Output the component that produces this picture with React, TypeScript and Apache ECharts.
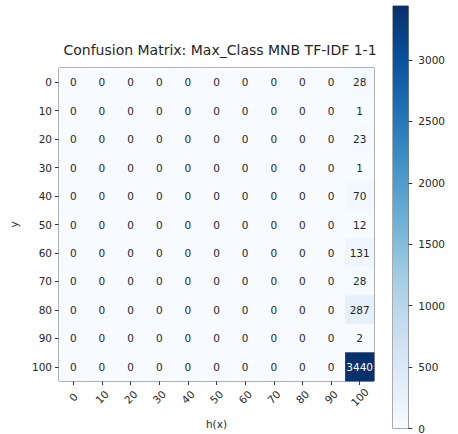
import React, { useEffect, useRef } from "react";
import * as echarts from "echarts";

const predLabels = ["0", "10", "20", "30", "40", "50", "60", "70", "80", "90", "100"];
const trueLabels = ["0", "10", "20", "30", "40", "50", "60", "70", "80", "90", "100"];
const matrix: number[][] = [
  [0, 0, 0, 0, 0, 0, 0, 0, 0, 0, 28],
  [0, 0, 0, 0, 0, 0, 0, 0, 0, 0, 1],
  [0, 0, 0, 0, 0, 0, 0, 0, 0, 0, 23],
  [0, 0, 0, 0, 0, 0, 0, 0, 0, 0, 1],
  [0, 0, 0, 0, 0, 0, 0, 0, 0, 0, 70],
  [0, 0, 0, 0, 0, 0, 0, 0, 0, 0, 12],
  [0, 0, 0, 0, 0, 0, 0, 0, 0, 0, 131],
  [0, 0, 0, 0, 0, 0, 0, 0, 0, 0, 28],
  [0, 0, 0, 0, 0, 0, 0, 0, 0, 0, 287],
  [0, 0, 0, 0, 0, 0, 0, 0, 0, 0, 2],
  [0, 0, 0, 0, 0, 0, 0, 0, 0, 0, 3440],
];
const colorbarMax = 3440;
const colorbarTicks = [0, 500, 1000, 1500, 2000, 2500, 3000];

const blues = ["#f7fbff", "#deebf7", "#c6dbef", "#9ecae1", "#6baed6", "#4292c6", "#2171b5", "#08519c", "#08306b"];
const FONT = "DejaVu Sans";
const TXT = "#262626";

export default function App() {
  const ref = useRef<HTMLDivElement>(null);
  useEffect(() => {
    if (!ref.current) return;
    const chart = echarts.init(ref.current, null, { renderer: "svg" });
    const maxVal = Math.max(...matrix.map((r) => Math.max(...r)));
    const data: any[] = [];
    matrix.forEach((row, i) =>
      row.forEach((v, j) => {
        data.push({
          value: [j, i, v],
          label: { color: v > maxVal / 2 ? "#ffffff" : TXT },
        });
      })
    );
    chart.setOption({
      animation: false,
      backgroundColor: "#ffffff",
      textStyle: { fontFamily: FONT },
      title: {
        text: "Confusion Matrix: Max_Class MNB TF-IDF 1-1",
        left: 215,
        textAlign: "center",
        top: 38,
        textStyle: { fontFamily: FONT, fontSize: 14, fontWeight: "normal", color: TXT },
      },
      grid: [
        { left: 56, top: 68, width: 318, height: 314, show: true, borderColor: "#333", borderWidth: 1, backgroundColor: "transparent" },
        { left: 393, top: 6, width: 21, height: 430, show: true, borderColor: "#555", borderWidth: 1 },
      ],
      xAxis: [
        {
          type: "category",
          gridIndex: 0,
          data: predLabels,
          name: "h(x)",
          nameLocation: "middle",
          nameGap: 37,
          nameTextStyle: { fontFamily: FONT, fontSize: 10.5, color: TXT },
          axisLine: { show: false },
          axisTick: { show: true, alignWithLabel: true, length: 4, lineStyle: { color: "#333" } },
          axisLabel: {
            rotate: 45,
            align: "center",
            verticalAlign: "middle",
            fontFamily: FONT,
            fontSize: 10.5,
            color: TXT,
            margin: 16,
            interval: 0,
          },
          splitLine: { show: false },
        },
        {
          type: "category",
          gridIndex: 1,
          data: ["cb"],
          show: false,
        },
      ],
      yAxis: [
        {
          type: "category",
          gridIndex: 0,
          data: trueLabels,
          inverse: true,
          name: "y",
          nameLocation: "middle",
          nameGap: 40,
          nameTextStyle: { fontFamily: FONT, fontSize: 10.5, color: TXT },
          axisLine: { show: false },
          axisTick: { show: true, alignWithLabel: true, length: 4, lineStyle: { color: "#333" } },
          axisLabel: { fontFamily: FONT, fontSize: 10.5, color: TXT, margin: 7, interval: 0 },
          splitLine: { show: false },
        },
        {
          type: "value",
          gridIndex: 1,
          position: "right",
          min: 0,
          max: colorbarMax,
          interval: 500,
          axisLine: { show: false },
          axisTick: { show: true, length: 4, inside: false, lineStyle: { color: "#333" } },
          axisLabel: {
            fontFamily: FONT,
            fontSize: 10.5,
            color: TXT,
            margin: 10,
            showMaxLabel: false,
            formatter: (v: number) => (colorbarTicks.includes(v) ? String(v) : ""),
          },
          splitLine: { show: false },
        },
      ],
      visualMap: {
        show: false,
        type: "continuous",
        min: 0,
        max: maxVal,
        seriesIndex: 0,
        dimension: 2,
        inRange: { color: blues },
      },
      series: [
        {
          type: "heatmap",
          xAxisIndex: 0,
          yAxisIndex: 0,
          data,
          label: { show: true, fontFamily: FONT, fontSize: 10.5, formatter: (p: any) => String(p.value[2]) },
          itemStyle: { borderWidth: 0 },
        },
        {
          type: "bar",
          xAxisIndex: 1,
          yAxisIndex: 1,
          data: [colorbarMax],
          barWidth: "100%",
          silent: true,
          itemStyle: {
            color: new echarts.graphic.LinearGradient(
              0, 0, 0, 1,
              blues.slice().reverse().map((c, i) => ({ offset: i / (blues.length - 1), color: c }))
            ),
          },
        },
      ],
    });
    return () => chart.dispose();
  }, []);
  return (
    <div style={{ position: "fixed", left: 0, top: 0, width: 458, height: 434, background: "#ffffff" }}>
      <div ref={ref} style={{ position: "absolute", left: 0, top: 0, width: 448, height: 434, overflow: "hidden" }} />
    </div>
  );
}
